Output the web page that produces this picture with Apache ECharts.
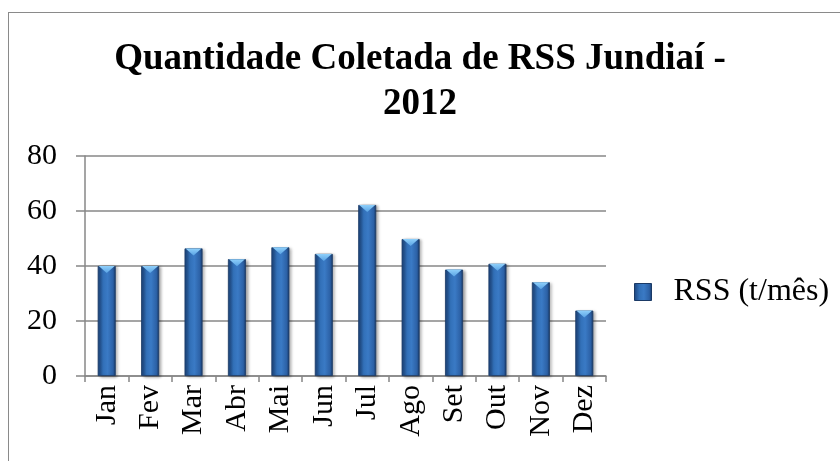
<!DOCTYPE html>
<html>
<head>
<meta charset="utf-8">
<script src="https://cdn.jsdelivr.net/npm/echarts@6/dist/echarts.min.js"></script>
<style>
html,body{margin:0;padding:0;background:#fff;}
#wrap{position:relative;width:840px;height:461px;}
#frame{position:absolute;left:8px;top:12px;width:840px;height:460px;border-left:1.5px solid #8a8a8a;border-top:1.5px solid #8a8a8a;box-sizing:border-box;}
#chart{position:absolute;left:0;top:0;width:840px;height:461px;}
</style>
</head>
<body>
<div id="wrap"><div id="frame"></div><div id="chart"></div></div>
<script>
const titleText = 'Quantidade Coletada de RSS Jundiaí -\n2012';
const seriesName = 'RSS (t/mês)';
const categories = ['Jan','Fev','Mar','Abr','Mai','Jun','Jul','Ago','Set','Out','Nov','Dez'];
const values = [40, 40, 46.4, 42.5, 46.8, 44.4, 62.2, 49.8, 38.7, 40.8, 34.1, 23.8];
const yTicks = { min: 0, max: 80, interval: 20 };

const font = '"Liberation Serif", "Times New Roman", serif';
const chart = echarts.init(document.getElementById('chart'), null, {renderer: 'canvas'});
const barGrad = new echarts.graphic.LinearGradient(0, 0, 1, 0, [
  {offset: 0, color: '#1b4279'},
  {offset: 0.3, color: '#3270b8'},
  {offset: 0.55, color: '#3a7ac5'},
  {offset: 0.85, color: '#2c61a6'},
  {offset: 1, color: '#183866'}
]);
chart.setOption({
  animation: false,
  backgroundColor: 'transparent',
  title: {
    text: titleText,
    left: 'center',
    top: 32,
    textStyle: {fontFamily: font, fontSize: 37, fontWeight: 'bold', color: '#000', lineHeight: 45}
  },
  legend: {
    left: 634,
    top: 276,
    padding: 0,
    icon: 'rect',
    itemWidth: 17,
    itemHeight: 17,
    data: [{name: seriesName, itemStyle: {color: barGrad, borderColor: '#1b3a66', borderWidth: 1}}],
    textStyle: {fontFamily: font, fontSize: 32, color: '#000', padding: [0, 0, 0, 17]}
  },
  grid: {left: 85, right: 234, top: 156, bottom: 85, containLabel: false},
  xAxis: {
    type: 'category',
    data: categories,
    boundaryGap: true,
    axisLine: {lineStyle: {color: '#878787', width: 1.5}},
    axisTick: {show: true, length: 6, interval: 0, alignWithLabel: false, lineStyle: {color: '#878787', width: 1.5}},
    axisLabel: {rotate: 90, interval: 0, margin: 9, fontFamily: font, fontSize: 30, color: '#000'}
  },
  yAxis: {
    type: 'value',
    min: yTicks.min, max: yTicks.max, interval: yTicks.interval,
    axisLine: {show: true, lineStyle: {color: '#878787', width: 1.5}},
    axisTick: {show: true, length: 9, lineStyle: {color: '#878787', width: 1.5}},
    splitLine: {show: true, lineStyle: {color: '#878787', width: 1.5}},
    axisLabel: {margin: 28, fontFamily: font, fontSize: 30, color: '#000'}
  },
  series: [
    {
      name: seriesName,
      type: 'bar',
      data: values,
      barWidth: 18,
      itemStyle: {color: barGrad, borderColor: '#1b3a66', borderWidth: 0.8,
        shadowColor: 'rgba(0,0,0,0.35)', shadowBlur: 3, shadowOffsetX: 2, shadowOffsetY: 1}
    },
    {
      name: 'cap',
      type: 'pictorialBar',
      data: values,
      symbol: 'path://M0,0 L18,0 L9,7 Z',
      symbolSize: [16, 7],
      symbolPosition: 'end',
      barGap: '-100%',
      z: 5,
      silent: true,
      itemStyle: {color: new echarts.graphic.LinearGradient(0, 0, 0, 1, [
        {offset: 0, color: '#8fd0fb'},
        {offset: 1, color: '#5aa3e4'}
      ])}
    }
  ]
});
</script>
</body>
</html>
